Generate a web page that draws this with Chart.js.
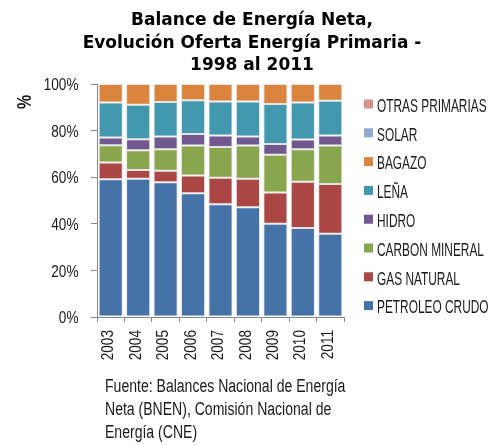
<!DOCTYPE html>
<html>
<head>
<meta charset="utf-8">
<script src="https://cdn.jsdelivr.net/npm/chart.js@4/dist/chart.umd.min.js"></script>
<style>
html,body{margin:0;padding:0;background:#fff;}
#wrap{position:relative;width:492px;height:445px;}
</style>
</head>
<body>
<div id="wrap"><canvas id="c" width="492" height="445"></canvas></div>
<script>
const years = ['2003','2004','2005','2006','2007','2008','2009','2010','2011'];
const petroleoCrudo = [59.1, 59.3, 57.8, 53.1, 48.4, 47.1, 40.0, 38.2, 35.7];
const gasNatural    = [7.2, 3.8, 5.0, 7.6, 11.4, 12.2, 13.4, 19.9, 21.4];
const carbonMineral = [7.4, 8.5, 9.2, 12.9, 13.2, 14.3, 16.2, 13.9, 16.5];
const hidro         = [3.3, 4.7, 5.5, 4.9, 4.9, 3.9, 4.7, 4.2, 4.3];
const lena          = [15.1, 14.8, 14.8, 14.5, 14.6, 15.0, 17.1, 15.9, 14.9];
const bagazo        = [7.9, 8.9, 7.7, 7.0, 7.5, 7.5, 8.6, 7.9, 7.2];
const solar         = [0, 0, 0, 0, 0, 0, 0, 0, 0];
const otrasPrimarias= [0, 0, 0, 0, 0, 0, 0, 0, 0];
const yTicks = ['0%','20%','40%','60%','80%','100%'];
const titleLines = ['Balance de Energía Neta,', 'Evolución Oferta Energía Primaria -', '1998 al 2011'];
const sourceLines = ['Fuente: Balances Nacional de Energía', 'Neta (BNEN), Comisión Nacional de', 'Energía (CNE)'];
const yAxisLabel = '%';

const NARROW = '"Liberation Sans", Arial, sans-serif';
const TXT = '#1a1a1a';

const series = [
  {label:'PETROLEO CRUDO', data: petroleoCrudo, color:'#4572A7'},
  {label:'GAS NATURAL', data: gasNatural, color:'#AA4643'},
  {label:'CARBON MINERAL', data: carbonMineral, color:'#89A54E'},
  {label:'HIDRO', data: hidro, color:'#71588F'},
  {label:'LEÑA', data: lena, color:'#4198AF'},
  {label:'BAGAZO', data: bagazo, color:'#DB843D'},
  {label:'SOLAR', data: solar, color:'#93A9CF'},
  {label:'OTRAS PRIMARIAS', data: otrasPrimarias, color:'#D19392'}
];

// draw horizontally condensed text
function narrowText(ctx, text, x, y, size, sx, align, rot, weight){
  ctx.save();
  ctx.translate(x, y);
  if (rot) ctx.rotate(rot);
  ctx.scale(sx, 1);
  ctx.font = (weight ? weight + ' ' : '') + size + 'px ' + NARROW;
  ctx.textAlign = align || 'left';
  ctx.textBaseline = 'alphabetic';
  ctx.fillStyle = TXT;
  ctx.fillText(text, 0, 0);
  ctx.restore();
}

const extras = {
  id:'extras',
  afterDraw(chart){
    const ctx = chart.ctx;
    ctx.save();
    // title
    ctx.fillStyle = '#000';
    ctx.font = 'bold 17px "DejaVu Sans", sans-serif';
    ctx.textAlign = 'center';
    ctx.textBaseline = 'alphabetic';
    titleLines.forEach((t,i)=>ctx.fillText(t, 252, 25 + i*22.5));
    // y axis label
    narrowText(ctx, yAxisLabel, 31, 102, 20, 0.8, 'center', -Math.PI/2, 'bold');
    // y tick labels
    const ys = chart.scales.y;
    ys.ticks.forEach((t,i)=>{
      const py = ys.getPixelForTick(i);
      narrowText(ctx, yTicks[Math.round(t.value/20)], 78.5, py + 6.2, 17, 0.8, 'right');
    });
    // x tick labels (rotated, reading upward)
    const xs = chart.scales.x;
    chart.data.labels.forEach((lab,i)=>{
      const px = xs.getPixelForTick(i);
      narrowText(ctx, lab, px + 2.6, 330, 17, 0.8, 'right', -Math.PI/2);
    });
    // legend
    const n = chart.data.datasets.length;
    for (let k = 0; k < n; k++) {
      const ds = chart.data.datasets[n-1-k];
      const base = 111.7 + k*28.8;
      ctx.fillStyle = ds.backgroundColor;
      ctx.fillRect(364, base - 12.2, 9, 9);
      narrowText(ctx, ds.label, 377, base, 18, 0.66, 'left');
    }
    // source
    sourceLines.forEach((t,i)=>narrowText(ctx, t, 105, 391.7 + i*23, 18, 0.78, 'left'));
    ctx.restore();
  }
};

new Chart(document.getElementById('c'), {
  type:'bar',
  data:{
    labels: years,
    datasets: series.map(s=>({
      label: s.label,
      data: s.data,
      backgroundColor: s.color,
      borderColor: 'rgba(225,225,225,0.9)',
      borderWidth: 1,
      borderSkipped: false,
      barPercentage: 0.88,
      categoryPercentage: 1.0
    }))
  },
  options:{
    responsive:false,
    animation:false,
    devicePixelRatio:1,
    layout:{padding:{top:84, right:148, left:0, bottom:0}},
    plugins:{legend:{display:false}, title:{display:false}, tooltip:{enabled:false}},
    scales:{
      x:{
        stacked:true,
        grid:{display:true, offset:true, drawOnChartArea:false, tickLength:5, color:'#888'},
        border:{color:'#888', width:1},
        ticks:{display:false},
        afterFit(s){ s.height = 128; }
      },
      y:{
        stacked:true,
        min:0, max:100,
        grid:{display:true, drawOnChartArea:false, tickLength:6, color:'#888'},
        border:{color:'#888', width:1},
        ticks:{display:false, stepSize:20},
        afterFit(s){ s.width = 97; }
      }
    }
  },
  plugins:[extras]
});
</script>
</body>
</html>
